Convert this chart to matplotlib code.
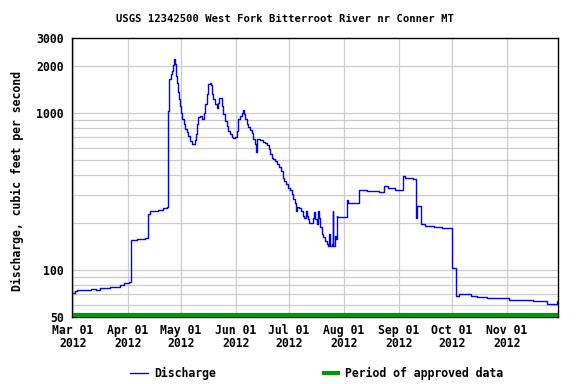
import numpy as np
import pandas as pd
import matplotlib
matplotlib.use("Agg")
import matplotlib.pyplot as plt
from matplotlib.lines import Line2D

# days after 2012-03-01, discharge (cfs)
days = [0.0, 1.2, 2.4, 10.4, 13.1, 15.5, 21.2, 26.8, 29.1, 31.6,
        33.0, 36.4, 40.6, 42.5, 43.8, 48.1, 50.8, 53.2, 53.9, 54.5,
        55.3, 55.8, 56.4, 57.0, 57.5, 58.1, 58.7, 59.2, 59.8, 60.5,
        61.1, 61.8, 62.8, 63.5, 64.3, 65.2, 66.2, 67.1, 68.4, 69.0,
        69.6, 70.0, 70.9, 71.8, 72.8, 73.7, 74.3, 74.8, 75.6, 76.5,
        77.5, 78.0, 78.6, 79.3, 80.3, 81.3, 82.2, 82.7, 83.5, 84.1,
        85.0, 85.9, 86.9, 87.8, 88.8, 89.7, 90.6, 91.6, 92.5, 93.5,
        94.4, 95.4, 96.1, 96.7, 97.4, 98.2, 99.1, 100.1, 101.0, 101.9,
        102.9, 103.5, 103.7, 104.1, 105.7, 107.2, 108.5, 109.8, 110.8, 111.3,
        112.3, 113.2, 114.2, 115.1, 116.6, 117.6, 118.5, 119.4, 120.4, 121.7,
        122.6, 123.6, 124.5, 125.5, 126.0, 126.4, 127.9, 128.9, 129.8, 130.5,
        131.5, 132.1, 132.6, 133.5, 135.5, 136.2, 136.9, 137.7, 138.3, 138.8,
        139.6, 140.5, 141.4, 142.4, 143.4, 144.3, 144.8, 145.2, 146.2, 146.8,
        147.1, 148.1, 148.6, 149.0, 149.3, 155.0, 155.2, 161.8, 166.0, 173.1,
        175.9, 178.1, 181.9, 186.1, 187.6, 191.9, 193.8, 194.0, 196.6, 198.9,
        203.6, 208.3, 213.9, 216.2, 218.1, 224.7, 228.1, 233.7, 245.9, 260.0,
        267.6, 273.2, 274.0]
cfs = [70.6, 72.7, 74.3, 75.5, 74.3, 76, 78, 80.2, 82.6, 83.8,
       155, 157, 159, 226, 238, 240, 249, 253, 1030, 1640,
       1766, 1854, 2025, 2200, 2050, 1720, 1560, 1350, 1220, 1110,
       1005, 912, 848, 788, 757, 714, 663, 632, 632, 670,
       731, 848, 935, 953, 920, 920, 1005, 1136, 1315, 1524,
       1540, 1505, 1315, 1221, 1136, 1071, 1164, 1235, 1235, 1108,
       981, 889, 827, 768, 731, 703, 690, 703, 768, 912,
       958, 1005, 1040, 981, 912, 848, 814, 780, 749, 681,
       632, 560, 663, 681, 670, 650, 641, 625, 588, 546,
       519, 506, 494, 471, 451, 423, 387, 366, 351, 334,
       322, 304, 282, 268, 238, 252, 247, 238, 221, 213,
       238, 221, 210, 198, 215, 233, 210, 195, 238, 215,
       187, 169, 162, 153, 147, 142, 169, 142, 146, 238,
       142, 165, 157, 221, 218, 278, 268, 322, 319, 314,
       343, 334, 323, 397, 387, 378, 215, 256, 197, 191,
       188, 184, 102.5, 68.3, 70, 68, 67, 65.7, 64.4, 62.8,
       60.8, 62.8, 62.8]

start = pd.Timestamp("2012-03-01")
dates = start + pd.to_timedelta(days, unit="D")
end = start + pd.Timedelta(days=274)

month_ticks = pd.date_range("2012-03-01", "2012-11-01", freq="MS")
month_labels = [d.strftime("%b %d\n%Y") for d in month_ticks]
y_major = [50, 100, 1000, 2000, 3000]
y_grid = [60, 70, 80, 90, 100, 200, 300, 400, 500, 600, 700, 800, 900, 1000, 2000]

plt.rcParams["font.family"] = ["DejaVu Sans Mono"]
plt.rcParams["font.weight"] = "bold"

fig = plt.figure(figsize=(5.76, 3.84), dpi=100)
ax = fig.add_axes([72.3 / 576, 1 - 317 / 384, 486 / 576, 279 / 384])

ax.plot(dates, cfs, color="#0000FF", lw=1.0, drawstyle="steps-post", zorder=3)
# approved data bar along the bottom
ax.plot([start, end], [51.6, 51.6], color="#009900", lw=3.0,
        solid_capstyle="butt", zorder=4, clip_on=False)

ax.set_yscale("log")
ax.set_ylim(50, 3000)
ax.set_xlim(start - pd.Timedelta(hours=6), end)

ax.set_yticks(y_major)
ax.set_yticklabels([str(v) for v in y_major])
ax.set_yticks([], minor=True)
for v in y_grid:
    ax.axhline(v, color="#CCCCCC", lw=0.9, zorder=1)
ax.set_xticks(month_ticks)
ax.set_xticklabels(month_labels, linespacing=1.05)
for d in month_ticks:
    ax.axvline(d, color="#CCCCCC", lw=0.9, zorder=1)

ax.tick_params(axis="both", length=0, labelsize=8.3)
ax.tick_params(axis="y", pad=6)
ax.tick_params(axis="x", pad=5)
for s in ax.spines.values():
    s.set_linewidth(1.0)
    s.set_color("black")

ax.set_ylabel("Discharge, cubic feet per second", fontsize=8.3, fontweight="bold")
ax.yaxis.set_label_coords(-0.099, 0.487)

fig.text(285 / 576, 1 - 19 / 384, "USGS 12342500 West Fork Bitterroot River nr Conner MT",
         ha="center", va="center", fontsize=7.6, fontweight="bold")

# legend below the plot
ly = 1 - 373 / 384
fig.add_artist(Line2D([130 / 576, 148 / 576], [ly, ly], color="#0000FF", lw=1.0))
fig.text(154 / 576, ly, "Discharge", ha="left", va="center", fontsize=8.3, fontweight="bold")
fig.add_artist(Line2D([322 / 576, 340 / 576], [ly, ly], color="#009900", lw=3.0,
                      solid_capstyle="butt"))
fig.text(345 / 576, ly, "Period of approved data", ha="left", va="center",
         fontsize=8.3, fontweight="bold")

fig.savefig("out.png", dpi=100)
